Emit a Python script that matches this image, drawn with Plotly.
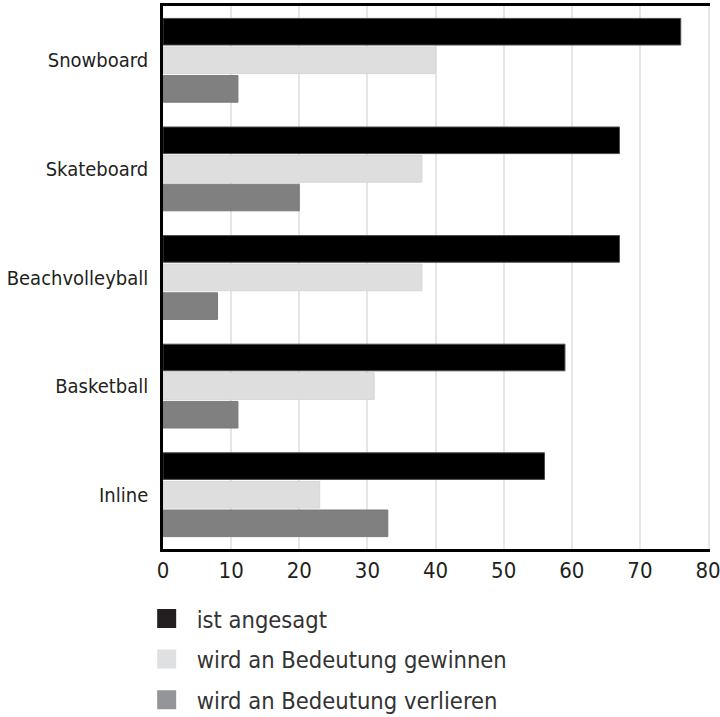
import plotly.graph_objects as go

categories = ["Snowboard", "Skateboard", "Beachvolleyball", "Basketball", "Inline"]
ist_angesagt = [76, 67, 67, 59, 56]
gewinnen = [40, 38, 38, 31, 23]
verlieren = [11, 20, 8, 11, 33]
series_names = ["ist angesagt", "wird an Bedeutung gewinnen", "wird an Bedeutung verlieren"]
x_ticks = [0, 10, 20, 30, 40, 50, 60, 70, 80]

FONT = "Liberation Sans Narrow, DejaVu Sans Condensed, Roboto, sans-serif"
bar_colors = ["#000000", "#dedede", "#808080"]
bar_lines = ["#4a4a4a", "#d6d6d6", "#7a7a7a"]
legend_colors = ["#231f20", "#dfe0e1", "#939598"]

fig = go.Figure()
for i, (name, vals) in enumerate(zip(series_names, [ist_angesagt, gewinnen, verlieren])):
    fig.add_trace(go.Bar(
        y=categories, x=vals, orientation="h", name=name,
        marker=dict(color=bar_colors[i], line=dict(color=bar_lines[i], width=1)),
        showlegend=False, legendgroup=f"g{i}",
    ))
for i, name in enumerate(series_names):
    fig.add_trace(go.Scatter(
        x=[None], y=[None], mode="markers", name=name, legendgroup=f"g{i}",
        marker=dict(symbol="square", size=16, color=legend_colors[i],
                    line=dict(color=legend_colors[i], width=3)),
        showlegend=True,
    ))
# invisible helper trace so the right-hand light grid border axis exists
fig.add_trace(go.Scatter(x=[None], y=[None], yaxis="y2", showlegend=False, hoverinfo="skip"))

fig.update_layout(
    width=720, height=717,
    margin=dict(l=163, r=12, t=6, b=168, autoexpand=False),
    paper_bgcolor="white", plot_bgcolor="white",
    barmode="group", bargap=0.21, bargroupgap=0.07,
    font=dict(family=FONT, color="#231f20", size=20),
    xaxis=dict(range=[0, 80], tickvals=x_ticks, ticktext=[str(v) for v in x_ticks],
               showgrid=True, gridcolor="#e6e6e6", gridwidth=2,
               showline=True, linecolor="#000000", linewidth=2.5, mirror=True,
               zeroline=False, ticks="", tickfont=dict(size=22), ticklabelstandoff=0,
               ticklabeloverflow="allow", automargin=False),
    yaxis=dict(autorange="reversed", showgrid=False, showline=True,
               linecolor="#000000", linewidth=2.5, ticks="",
               tickfont=dict(size=20), ticklabelstandoff=8, automargin=False),
    yaxis2=dict(overlaying="y", side="right", showline=True, linecolor="#e6e6e6",
                linewidth=2, showgrid=False, zeroline=False, showticklabels=False,
                ticks="", automargin=False),
    legend=dict(x=-0.0483, xanchor="left", y=-0.088, yanchor="top",
                orientation="v", traceorder="grouped", tracegroupgap=7,
                itemwidth=50, font=dict(size=23.5, color="#333333"),
                bgcolor="rgba(0,0,0,0)"),
    showlegend=True,
)

fig.write_html("out.html")
